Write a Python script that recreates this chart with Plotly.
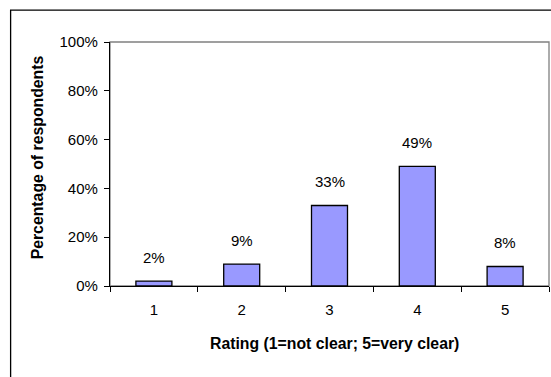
import plotly.graph_objects as go

categories = ["1", "2", "3", "4", "5"]
values = [2, 9, 33, 49, 8]
labels = ["2%", "9%", "33%", "49%", "8%"]
y_ticks = [0, 20, 40, 60, 80, 100]
y_tick_labels = ["0%", "20%", "40%", "60%", "80%", "100%"]

FONT = "Liberation Sans, Arial, sans-serif"
FS = 15
TFS = 15.8

W, H = 551, 377
ml, mr, mt, mb = 110, 1.5, 41.5, 377 - 286
pw, ph = W - ml - mr, H - mt - mb

def px_x(px):
    return (px - ml) / pw

def px_y(py):
    return (H - mb - py) / ph

fig = go.Figure()
fig.add_trace(go.Bar(
    x=list(range(len(categories))), y=values, width=0.41,
    marker=dict(color="#9999FF", line=dict(color="black", width=1.3)),
    hoverinfo="skip",
))

for i, (v, t) in enumerate(zip(values, labels)):
    fig.add_annotation(x=i, y=v, text=t, showarrow=False, yanchor="bottom",
                       yshift=13, font=dict(family=FONT, size=FS, color="black"))

# axis titles
fig.add_annotation(xref="paper", yref="paper", x=px_x(334.5), y=px_y(344),
                   text="<b>Rating (1=not clear; 5=very clear)</b>", showarrow=False,
                   xanchor="center", yanchor="middle",
                   font=dict(family=FONT, size=TFS, color="black"))
fig.add_annotation(xref="paper", yref="paper", x=px_x(37), y=px_y(157),
                   text="<b>Percentage of respondents</b>", showarrow=False, textangle=-90,
                   xanchor="center", yanchor="middle",
                   font=dict(family=FONT, size=TFS, color="black"))

# gray plot area border
fig.add_shape(type="rect", xref="paper", yref="paper", x0=0, x1=1, y0=0, y1=1,
              line=dict(color="#808080", width=1.3), layer="below")
# outer chart frame (right and bottom edges lie outside the visible page)
fig.add_shape(type="rect", xref="paper", yref="paper",
              x0=px_x(10.5), x1=px_x(560), y0=px_y(390), y1=px_y(9.5),
              line=dict(color="black", width=1.3), layer="below")

fig.update_layout(
    width=W, height=H,
    margin=dict(l=ml, r=mr, t=mt, b=mb, autoexpand=False),
    paper_bgcolor="white", plot_bgcolor="white",
    showlegend=False,
    font=dict(family=FONT, size=FS, color="black"),
    xaxis=dict(
        range=[-0.5, 4.5], tickvals=list(range(len(categories))), ticktext=categories,
        showline=True, linecolor="black", linewidth=1.3,
        ticks="", showgrid=False, zeroline=False,
        tickfont=dict(family=FONT, size=FS), ticklabelstandoff=10,
        minor=dict(tickvals=[i - 0.5 for i in range(len(categories) + 1)],
                   ticks="outside", ticklen=5, tickcolor="black", tickwidth=1.3, showgrid=False),
    ),
    yaxis=dict(
        range=[0, 100], tickvals=y_ticks, ticktext=y_tick_labels,
        showline=True, linecolor="black", linewidth=1.3,
        ticks="outside", ticklen=5, tickcolor="black", tickwidth=1.3,
        showgrid=False, zeroline=False,
        tickfont=dict(family=FONT, size=FS), ticklabelstandoff=3,
    ),
)

fig.write_html("out.html", config={"displayModeBar": False},
               post_script="document.body.style.margin='0';")
